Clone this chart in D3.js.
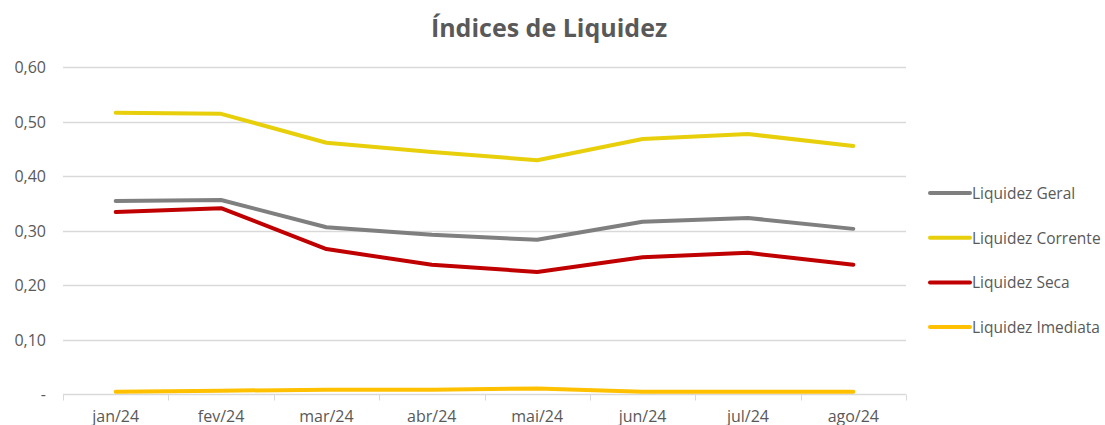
<!DOCTYPE html>
<html>
<head>
<meta charset="utf-8">
<script src="https://cdn.jsdelivr.net/npm/d3@7"></script>
<style>
  body { margin: 0; background: #fff; }
  text { font-family: "Open Sans", Lato, sans-serif; fill: #595959; }
</style>
</head>
<body>
<script>
// data
var months = ["jan/24", "fev/24", "mar/24", "abr/24", "mai/24", "jun/24", "jul/24", "ago/24"];
var geral = [0.354, 0.356, 0.306, 0.292, 0.283, 0.316, 0.323, 0.303];
var corrente = [0.516, 0.514, 0.461, 0.444, 0.429, 0.468, 0.477, 0.455];
var seca = [0.334, 0.341, 0.266, 0.237, 0.224, 0.251, 0.259, 0.237];
var imediata = [0.004, 0.006, 0.008, 0.008, 0.010, 0.004, 0.004, 0.004];
var yTicks = [0, 0.1, 0.2, 0.3, 0.4, 0.5, 0.6];

var series = [
  {name: "Liquidez Geral", values: geral, color: "#7f7f7f"},
  {name: "Liquidez Corrente", values: corrente, color: "#e8cf0c"},
  {name: "Liquidez Seca", values: seca, color: "#c00000"},
  {name: "Liquidez Imediata", values: imediata, color: "#ffc000"}
];

var width = 1105, height = 425;
var margin = {top: 67, left: 63, right: 199, bottom: 31};

var svg = d3.select("body").append("svg")
  .attr("width", width)
  .attr("height", height);

var x = d3.scaleBand()
  .domain(months)
  .range([margin.left, width - margin.right]);

var y = d3.scaleLinear()
  .domain([0, 0.6])
  .range([height - margin.bottom, margin.top]);

// title
svg.append("text")
  .attr("x", 549)
  .attr("y", 37)
  .attr("text-anchor", "middle")
  .style("font-size", "25px")
  .style("font-weight", "bold")
  .text("Índices de Liquidez");

// gridlines
svg.append("g")
  .selectAll("line")
  .data(yTicks.slice(1))
  .enter()
  .append("line")
    .attr("x1", margin.left)
    .attr("x2", width - margin.right)
    .attr("y1", function(d) { return Math.round(y(d)) + 0.5; })
    .attr("y2", function(d) { return Math.round(y(d)) + 0.5; })
    .attr("stroke", "#d9d9d9")
    .attr("stroke-width", 1.5);

// y labels
var fmt = function(d) { return d === 0 ? "-" : d3.format(".2f")(d).replace(".", ","); };
svg.append("g")
  .selectAll("text")
  .data(yTicks)
  .enter()
  .append("text")
    .attr("x", 46)
    .attr("y", function(d) { return y(d) + 6; })
    .attr("text-anchor", "end")
    .style("font-size", "16px")
    .text(fmt);

// x axis
var xAxis = svg.append("g")
  .attr("transform", "translate(0," + (Math.round(y(0)) + 0.5) + ")");
xAxis.append("line")
  .attr("x1", margin.left)
  .attr("x2", width - margin.right)
  .attr("stroke", "#d9d9d9")
  .attr("stroke-width", 1.5);
var bounds = months.map(function(m) { return x(m); }).concat([x.range()[1]]);
xAxis.selectAll(".tk")
  .data(bounds)
  .enter()
  .append("line")
    .attr("class", "tk")
    .attr("x1", function(d) { return Math.round(d) + 0.5; })
    .attr("x2", function(d) { return Math.round(d) + 0.5; })
    .attr("y1", 0)
    .attr("y2", 6)
    .attr("stroke", "#d9d9d9");
xAxis.selectAll(".lbl")
  .data(months)
  .enter()
  .append("text")
    .attr("class", "lbl")
    .attr("x", function(d) { return x(d) + x.bandwidth() / 2; })
    .attr("y", 27)
    .attr("text-anchor", "middle")
    .style("font-size", "16px")
    .text(function(d) { return d; });

// lines
var line = d3.line()
  .x(function(d, i) { return x(months[i]) + x.bandwidth() / 2; })
  .y(function(d) { return y(d); });

svg.append("g")
  .selectAll("path")
  .data(series)
  .enter()
  .append("path")
    .attr("d", function(s) { return line(s.values); })
    .attr("fill", "none")
    .attr("stroke", function(s) { return s.color; })
    .attr("stroke-width", 4)
    .attr("stroke-linejoin", "round")
    .attr("stroke-linecap", "round");

// legend
var legend = svg.append("g")
  .selectAll("g")
  .data(series)
  .enter()
  .append("g")
    .attr("transform", function(s, i) { return "translate(930," + (193 + i * 44.7) + ")"; });
legend.append("line")
  .attr("x1", 0)
  .attr("x2", 40)
  .attr("stroke", function(s) { return s.color; })
  .attr("stroke-width", 4)
  .attr("stroke-linecap", "round");
legend.append("text")
  .attr("x", 42)
  .attr("y", 6)
  .style("font-size", "15.5px")
  .text(function(s) { return s.name; });
</script>
</body>
</html>
